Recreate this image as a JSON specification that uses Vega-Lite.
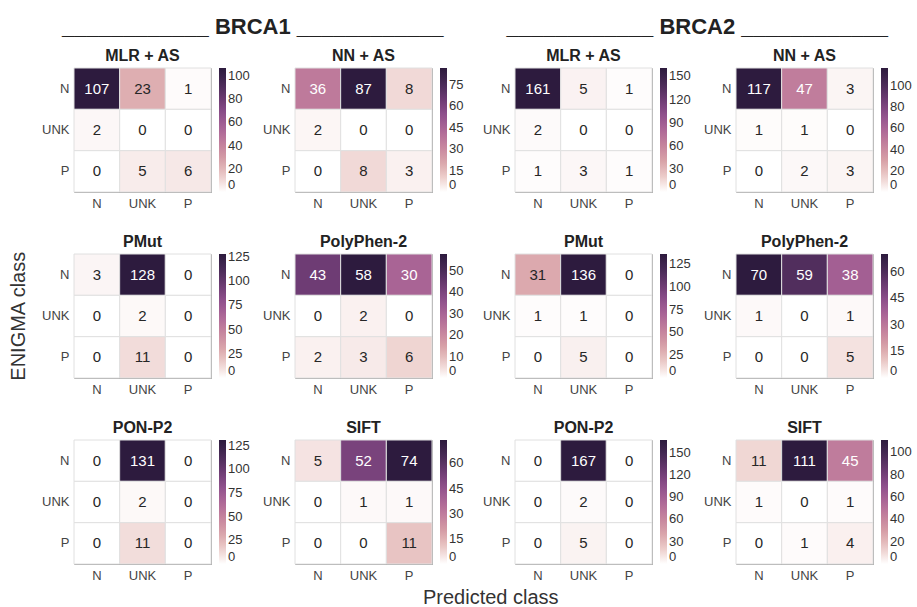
{
"$schema": "https://vega.github.io/schema/vega-lite/v6.json",
"padding": {"left": 9, "top": 16, "right": 2, "bottom": 0},
"config": {
  "font": "Liberation Sans",
  "view": {"stroke": "#9a9a9a"},
  "axis": {"domain": false, "ticks": false, "labelFontSize": 13, "labelColor": "#444444", "labelPadding": 5, "labelFont": "Liberation Sans"},
  "legend": {"gradientLength": 124, "gradientThickness": 7, "labelFontSize": 13, "labelColor": "#333333", "offset": 8, "padding": 0, "gradientStrokeWidth": 0, "labelOffset": 4, "labelFont": "Liberation Sans"},
  "title": {"font": "Liberation Sans", "fontSize": 16, "fontWeight": "bold", "color": "#222222", "offset": 4}
},
"data": {"values": [
{"g":"BRCA1","t":"MLR + AS","a":"N","p":"N","v":107},{"g":"BRCA1","t":"MLR + AS","a":"N","p":"UNK","v":23},{"g":"BRCA1","t":"MLR + AS","a":"N","p":"P","v":1},
{"g":"BRCA1","t":"MLR + AS","a":"UNK","p":"N","v":2},{"g":"BRCA1","t":"MLR + AS","a":"UNK","p":"UNK","v":0},{"g":"BRCA1","t":"MLR + AS","a":"UNK","p":"P","v":0},
{"g":"BRCA1","t":"MLR + AS","a":"P","p":"N","v":0},{"g":"BRCA1","t":"MLR + AS","a":"P","p":"UNK","v":5},{"g":"BRCA1","t":"MLR + AS","a":"P","p":"P","v":6},
{"g":"BRCA1","t":"NN + AS","a":"N","p":"N","v":36},{"g":"BRCA1","t":"NN + AS","a":"N","p":"UNK","v":87},{"g":"BRCA1","t":"NN + AS","a":"N","p":"P","v":8},
{"g":"BRCA1","t":"NN + AS","a":"UNK","p":"N","v":2},{"g":"BRCA1","t":"NN + AS","a":"UNK","p":"UNK","v":0},{"g":"BRCA1","t":"NN + AS","a":"UNK","p":"P","v":0},
{"g":"BRCA1","t":"NN + AS","a":"P","p":"N","v":0},{"g":"BRCA1","t":"NN + AS","a":"P","p":"UNK","v":8},{"g":"BRCA1","t":"NN + AS","a":"P","p":"P","v":3},
{"g":"BRCA1","t":"PMut","a":"N","p":"N","v":3},{"g":"BRCA1","t":"PMut","a":"N","p":"UNK","v":128},{"g":"BRCA1","t":"PMut","a":"N","p":"P","v":0},
{"g":"BRCA1","t":"PMut","a":"UNK","p":"N","v":0},{"g":"BRCA1","t":"PMut","a":"UNK","p":"UNK","v":2},{"g":"BRCA1","t":"PMut","a":"UNK","p":"P","v":0},
{"g":"BRCA1","t":"PMut","a":"P","p":"N","v":0},{"g":"BRCA1","t":"PMut","a":"P","p":"UNK","v":11},{"g":"BRCA1","t":"PMut","a":"P","p":"P","v":0},
{"g":"BRCA1","t":"PolyPhen-2","a":"N","p":"N","v":43},{"g":"BRCA1","t":"PolyPhen-2","a":"N","p":"UNK","v":58},{"g":"BRCA1","t":"PolyPhen-2","a":"N","p":"P","v":30},
{"g":"BRCA1","t":"PolyPhen-2","a":"UNK","p":"N","v":0},{"g":"BRCA1","t":"PolyPhen-2","a":"UNK","p":"UNK","v":2},{"g":"BRCA1","t":"PolyPhen-2","a":"UNK","p":"P","v":0},
{"g":"BRCA1","t":"PolyPhen-2","a":"P","p":"N","v":2},{"g":"BRCA1","t":"PolyPhen-2","a":"P","p":"UNK","v":3},{"g":"BRCA1","t":"PolyPhen-2","a":"P","p":"P","v":6},
{"g":"BRCA1","t":"PON-P2","a":"N","p":"N","v":0},{"g":"BRCA1","t":"PON-P2","a":"N","p":"UNK","v":131},{"g":"BRCA1","t":"PON-P2","a":"N","p":"P","v":0},
{"g":"BRCA1","t":"PON-P2","a":"UNK","p":"N","v":0},{"g":"BRCA1","t":"PON-P2","a":"UNK","p":"UNK","v":2},{"g":"BRCA1","t":"PON-P2","a":"UNK","p":"P","v":0},
{"g":"BRCA1","t":"PON-P2","a":"P","p":"N","v":0},{"g":"BRCA1","t":"PON-P2","a":"P","p":"UNK","v":11},{"g":"BRCA1","t":"PON-P2","a":"P","p":"P","v":0},
{"g":"BRCA1","t":"SIFT","a":"N","p":"N","v":5},{"g":"BRCA1","t":"SIFT","a":"N","p":"UNK","v":52},{"g":"BRCA1","t":"SIFT","a":"N","p":"P","v":74},
{"g":"BRCA1","t":"SIFT","a":"UNK","p":"N","v":0},{"g":"BRCA1","t":"SIFT","a":"UNK","p":"UNK","v":1},{"g":"BRCA1","t":"SIFT","a":"UNK","p":"P","v":1},
{"g":"BRCA1","t":"SIFT","a":"P","p":"N","v":0},{"g":"BRCA1","t":"SIFT","a":"P","p":"UNK","v":0},{"g":"BRCA1","t":"SIFT","a":"P","p":"P","v":11},
{"g":"BRCA2","t":"MLR + AS","a":"N","p":"N","v":161},{"g":"BRCA2","t":"MLR + AS","a":"N","p":"UNK","v":5},{"g":"BRCA2","t":"MLR + AS","a":"N","p":"P","v":1},
{"g":"BRCA2","t":"MLR + AS","a":"UNK","p":"N","v":2},{"g":"BRCA2","t":"MLR + AS","a":"UNK","p":"UNK","v":0},{"g":"BRCA2","t":"MLR + AS","a":"UNK","p":"P","v":0},
{"g":"BRCA2","t":"MLR + AS","a":"P","p":"N","v":1},{"g":"BRCA2","t":"MLR + AS","a":"P","p":"UNK","v":3},{"g":"BRCA2","t":"MLR + AS","a":"P","p":"P","v":1},
{"g":"BRCA2","t":"NN + AS","a":"N","p":"N","v":117},{"g":"BRCA2","t":"NN + AS","a":"N","p":"UNK","v":47},{"g":"BRCA2","t":"NN + AS","a":"N","p":"P","v":3},
{"g":"BRCA2","t":"NN + AS","a":"UNK","p":"N","v":1},{"g":"BRCA2","t":"NN + AS","a":"UNK","p":"UNK","v":1},{"g":"BRCA2","t":"NN + AS","a":"UNK","p":"P","v":0},
{"g":"BRCA2","t":"NN + AS","a":"P","p":"N","v":0},{"g":"BRCA2","t":"NN + AS","a":"P","p":"UNK","v":2},{"g":"BRCA2","t":"NN + AS","a":"P","p":"P","v":3},
{"g":"BRCA2","t":"PMut","a":"N","p":"N","v":31},{"g":"BRCA2","t":"PMut","a":"N","p":"UNK","v":136},{"g":"BRCA2","t":"PMut","a":"N","p":"P","v":0},
{"g":"BRCA2","t":"PMut","a":"UNK","p":"N","v":1},{"g":"BRCA2","t":"PMut","a":"UNK","p":"UNK","v":1},{"g":"BRCA2","t":"PMut","a":"UNK","p":"P","v":0},
{"g":"BRCA2","t":"PMut","a":"P","p":"N","v":0},{"g":"BRCA2","t":"PMut","a":"P","p":"UNK","v":5},{"g":"BRCA2","t":"PMut","a":"P","p":"P","v":0},
{"g":"BRCA2","t":"PolyPhen-2","a":"N","p":"N","v":70},{"g":"BRCA2","t":"PolyPhen-2","a":"N","p":"UNK","v":59},{"g":"BRCA2","t":"PolyPhen-2","a":"N","p":"P","v":38},
{"g":"BRCA2","t":"PolyPhen-2","a":"UNK","p":"N","v":1},{"g":"BRCA2","t":"PolyPhen-2","a":"UNK","p":"UNK","v":0},{"g":"BRCA2","t":"PolyPhen-2","a":"UNK","p":"P","v":1},
{"g":"BRCA2","t":"PolyPhen-2","a":"P","p":"N","v":0},{"g":"BRCA2","t":"PolyPhen-2","a":"P","p":"UNK","v":0},{"g":"BRCA2","t":"PolyPhen-2","a":"P","p":"P","v":5},
{"g":"BRCA2","t":"PON-P2","a":"N","p":"N","v":0},{"g":"BRCA2","t":"PON-P2","a":"N","p":"UNK","v":167},{"g":"BRCA2","t":"PON-P2","a":"N","p":"P","v":0},
{"g":"BRCA2","t":"PON-P2","a":"UNK","p":"N","v":0},{"g":"BRCA2","t":"PON-P2","a":"UNK","p":"UNK","v":2},{"g":"BRCA2","t":"PON-P2","a":"UNK","p":"P","v":0},
{"g":"BRCA2","t":"PON-P2","a":"P","p":"N","v":0},{"g":"BRCA2","t":"PON-P2","a":"P","p":"UNK","v":5},{"g":"BRCA2","t":"PON-P2","a":"P","p":"P","v":0},
{"g":"BRCA2","t":"SIFT","a":"N","p":"N","v":11},{"g":"BRCA2","t":"SIFT","a":"N","p":"UNK","v":111},{"g":"BRCA2","t":"SIFT","a":"N","p":"P","v":45},
{"g":"BRCA2","t":"SIFT","a":"UNK","p":"N","v":1},{"g":"BRCA2","t":"SIFT","a":"UNK","p":"UNK","v":0},{"g":"BRCA2","t":"SIFT","a":"UNK","p":"P","v":1},
{"g":"BRCA2","t":"SIFT","a":"P","p":"N","v":0},{"g":"BRCA2","t":"SIFT","a":"P","p":"UNK","v":1},{"g":"BRCA2","t":"SIFT","a":"P","p":"P","v":4}
]},
"title": {"text": "Predicted class", "orient": "bottom", "fontSize": 20, "fontWeight": "normal", "color": "#333333", "anchor": "middle", "offset": 5, "dx": 30},
"resolve": {"scale": {"color": "independent"}, "legend": {"color": "independent"}},
"vconcat": [{
  "title": {"text": "ENIGMA class", "orient": "left", "fontSize": 20, "fontWeight": "normal", "color": "#333333", "anchor": "middle", "offset": 12, "dx": -17},
  "resolve": {"scale": {"color": "independent"}, "legend": {"color": "independent"}},
  "spacing": 17,
  "hconcat": [
    {
      "title": {"text": "____________ BRCA1 ____________", "fontSize": 22, "fontWeight": "bold", "anchor": "middle", "offset": 8},
      "resolve": {"scale": {"color": "independent"}, "legend": {"color": "independent"}},
      "columns": 2,
      "spacing": {"row": 22, "column": 11},
      "concat": [
        {"title": "MLR + AS", "width": 137, "height": 124,
         "transform": [{"filter": "datum.g==='BRCA1' && datum.t==='MLR + AS'"}, {"joinaggregate": [{"op": "max", "field": "v", "as": "m"}]}],
         "encoding": {"x": {"field": "p", "type": "nominal", "sort": ["N","UNK","P"], "title": null, "axis": {"labelAngle": 0}}, "y": {"field": "a", "type": "nominal", "sort": ["N","UNK","P"], "title": null}},
         "layer": [
           {"mark": {"type": "rect", "stroke": "#e0e0e0", "strokeWidth": 1}, "encoding": {"color": {"field": "v", "type": "quantitative", "title": null, "scale": {"interpolate": "rgb", "range": ["#ffffff","#ecccc9","#d8a2a8","#c5839d","#ad6797","#8f508c","#6c3b72","#482a56","#2d1b3e"]}, "legend": {"values": [0,20,40,60,80,100]}}}},
           {"mark": {"type": "text", "fontSize": 15}, "encoding": {"text": {"field": "v", "type": "quantitative"}, "color": {"condition": {"test": "datum.v > 0.3*datum.m", "value": "white"}, "value": "#262626"}}}
         ]},
        {"title": "NN + AS", "width": 137, "height": 124,
         "transform": [{"filter": "datum.g==='BRCA1' && datum.t==='NN + AS'"}, {"joinaggregate": [{"op": "max", "field": "v", "as": "m"}]}],
         "encoding": {"x": {"field": "p", "type": "nominal", "sort": ["N","UNK","P"], "title": null, "axis": {"labelAngle": 0}}, "y": {"field": "a", "type": "nominal", "sort": ["N","UNK","P"], "title": null}},
         "layer": [
           {"mark": {"type": "rect", "stroke": "#e0e0e0", "strokeWidth": 1}, "encoding": {"color": {"field": "v", "type": "quantitative", "title": null, "scale": {"interpolate": "rgb", "range": ["#ffffff","#ecccc9","#d8a2a8","#c5839d","#ad6797","#8f508c","#6c3b72","#482a56","#2d1b3e"]}, "legend": {"values": [0,15,30,45,60,75]}}}},
           {"mark": {"type": "text", "fontSize": 15}, "encoding": {"text": {"field": "v", "type": "quantitative"}, "color": {"condition": {"test": "datum.v > 0.3*datum.m", "value": "white"}, "value": "#262626"}}}
         ]},
        {"title": "PMut", "width": 137, "height": 124,
         "transform": [{"filter": "datum.g==='BRCA1' && datum.t==='PMut'"}, {"joinaggregate": [{"op": "max", "field": "v", "as": "m"}]}],
         "encoding": {"x": {"field": "p", "type": "nominal", "sort": ["N","UNK","P"], "title": null, "axis": {"labelAngle": 0}}, "y": {"field": "a", "type": "nominal", "sort": ["N","UNK","P"], "title": null}},
         "layer": [
           {"mark": {"type": "rect", "stroke": "#e0e0e0", "strokeWidth": 1}, "encoding": {"color": {"field": "v", "type": "quantitative", "title": null, "scale": {"interpolate": "rgb", "range": ["#ffffff","#ecccc9","#d8a2a8","#c5839d","#ad6797","#8f508c","#6c3b72","#482a56","#2d1b3e"]}, "legend": {"values": [0,25,50,75,100,125]}}}},
           {"mark": {"type": "text", "fontSize": 15}, "encoding": {"text": {"field": "v", "type": "quantitative"}, "color": {"condition": {"test": "datum.v > 0.3*datum.m", "value": "white"}, "value": "#262626"}}}
         ]},
        {"title": "PolyPhen-2", "width": 137, "height": 124,
         "transform": [{"filter": "datum.g==='BRCA1' && datum.t==='PolyPhen-2'"}, {"joinaggregate": [{"op": "max", "field": "v", "as": "m"}]}],
         "encoding": {"x": {"field": "p", "type": "nominal", "sort": ["N","UNK","P"], "title": null, "axis": {"labelAngle": 0}}, "y": {"field": "a", "type": "nominal", "sort": ["N","UNK","P"], "title": null}},
         "layer": [
           {"mark": {"type": "rect", "stroke": "#e0e0e0", "strokeWidth": 1}, "encoding": {"color": {"field": "v", "type": "quantitative", "title": null, "scale": {"interpolate": "rgb", "range": ["#ffffff","#ecccc9","#d8a2a8","#c5839d","#ad6797","#8f508c","#6c3b72","#482a56","#2d1b3e"]}, "legend": {"values": [0,10,20,30,40,50]}}}},
           {"mark": {"type": "text", "fontSize": 15}, "encoding": {"text": {"field": "v", "type": "quantitative"}, "color": {"condition": {"test": "datum.v > 0.3*datum.m", "value": "white"}, "value": "#262626"}}}
         ]},
        {"title": "PON-P2", "width": 137, "height": 124,
         "transform": [{"filter": "datum.g==='BRCA1' && datum.t==='PON-P2'"}, {"joinaggregate": [{"op": "max", "field": "v", "as": "m"}]}],
         "encoding": {"x": {"field": "p", "type": "nominal", "sort": ["N","UNK","P"], "title": null, "axis": {"labelAngle": 0}}, "y": {"field": "a", "type": "nominal", "sort": ["N","UNK","P"], "title": null}},
         "layer": [
           {"mark": {"type": "rect", "stroke": "#e0e0e0", "strokeWidth": 1}, "encoding": {"color": {"field": "v", "type": "quantitative", "title": null, "scale": {"interpolate": "rgb", "range": ["#ffffff","#ecccc9","#d8a2a8","#c5839d","#ad6797","#8f508c","#6c3b72","#482a56","#2d1b3e"]}, "legend": {"values": [0,25,50,75,100,125]}}}},
           {"mark": {"type": "text", "fontSize": 15}, "encoding": {"text": {"field": "v", "type": "quantitative"}, "color": {"condition": {"test": "datum.v > 0.3*datum.m", "value": "white"}, "value": "#262626"}}}
         ]},
        {"title": "SIFT", "width": 137, "height": 124,
         "transform": [{"filter": "datum.g==='BRCA1' && datum.t==='SIFT'"}, {"joinaggregate": [{"op": "max", "field": "v", "as": "m"}]}],
         "encoding": {"x": {"field": "p", "type": "nominal", "sort": ["N","UNK","P"], "title": null, "axis": {"labelAngle": 0}}, "y": {"field": "a", "type": "nominal", "sort": ["N","UNK","P"], "title": null}},
         "layer": [
           {"mark": {"type": "rect", "stroke": "#e0e0e0", "strokeWidth": 1}, "encoding": {"color": {"field": "v", "type": "quantitative", "title": null, "scale": {"interpolate": "rgb", "range": ["#ffffff","#ecccc9","#d8a2a8","#c5839d","#ad6797","#8f508c","#6c3b72","#482a56","#2d1b3e"]}, "legend": {"values": [0,15,30,45,60]}}}},
           {"mark": {"type": "text", "fontSize": 15}, "encoding": {"text": {"field": "v", "type": "quantitative"}, "color": {"condition": {"test": "datum.v > 0.3*datum.m", "value": "white"}, "value": "#262626"}}}
         ]}
      ]
    },
    {
      "title": {"text": "____________ BRCA2 ____________", "fontSize": 22, "fontWeight": "bold", "anchor": "middle", "offset": 8},
      "resolve": {"scale": {"color": "independent"}, "legend": {"color": "independent"}},
      "columns": 2,
      "spacing": {"row": 22, "column": 11},
      "concat": [
        {"title": "MLR + AS", "width": 137, "height": 124,
         "transform": [{"filter": "datum.g==='BRCA2' && datum.t==='MLR + AS'"}, {"joinaggregate": [{"op": "max", "field": "v", "as": "m"}]}],
         "encoding": {"x": {"field": "p", "type": "nominal", "sort": ["N","UNK","P"], "title": null, "axis": {"labelAngle": 0}}, "y": {"field": "a", "type": "nominal", "sort": ["N","UNK","P"], "title": null}},
         "layer": [
           {"mark": {"type": "rect", "stroke": "#e0e0e0", "strokeWidth": 1}, "encoding": {"color": {"field": "v", "type": "quantitative", "title": null, "scale": {"interpolate": "rgb", "range": ["#ffffff","#ecccc9","#d8a2a8","#c5839d","#ad6797","#8f508c","#6c3b72","#482a56","#2d1b3e"]}, "legend": {"values": [0,30,60,90,120,150]}}}},
           {"mark": {"type": "text", "fontSize": 15}, "encoding": {"text": {"field": "v", "type": "quantitative"}, "color": {"condition": {"test": "datum.v > 0.3*datum.m", "value": "white"}, "value": "#262626"}}}
         ]},
        {"title": "NN + AS", "width": 137, "height": 124,
         "transform": [{"filter": "datum.g==='BRCA2' && datum.t==='NN + AS'"}, {"joinaggregate": [{"op": "max", "field": "v", "as": "m"}]}],
         "encoding": {"x": {"field": "p", "type": "nominal", "sort": ["N","UNK","P"], "title": null, "axis": {"labelAngle": 0}}, "y": {"field": "a", "type": "nominal", "sort": ["N","UNK","P"], "title": null}},
         "layer": [
           {"mark": {"type": "rect", "stroke": "#e0e0e0", "strokeWidth": 1}, "encoding": {"color": {"field": "v", "type": "quantitative", "title": null, "scale": {"interpolate": "rgb", "range": ["#ffffff","#ecccc9","#d8a2a8","#c5839d","#ad6797","#8f508c","#6c3b72","#482a56","#2d1b3e"]}, "legend": {"values": [0,20,40,60,80,100]}}}},
           {"mark": {"type": "text", "fontSize": 15}, "encoding": {"text": {"field": "v", "type": "quantitative"}, "color": {"condition": {"test": "datum.v > 0.3*datum.m", "value": "white"}, "value": "#262626"}}}
         ]},
        {"title": "PMut", "width": 137, "height": 124,
         "transform": [{"filter": "datum.g==='BRCA2' && datum.t==='PMut'"}, {"joinaggregate": [{"op": "max", "field": "v", "as": "m"}]}],
         "encoding": {"x": {"field": "p", "type": "nominal", "sort": ["N","UNK","P"], "title": null, "axis": {"labelAngle": 0}}, "y": {"field": "a", "type": "nominal", "sort": ["N","UNK","P"], "title": null}},
         "layer": [
           {"mark": {"type": "rect", "stroke": "#e0e0e0", "strokeWidth": 1}, "encoding": {"color": {"field": "v", "type": "quantitative", "title": null, "scale": {"interpolate": "rgb", "range": ["#ffffff","#ecccc9","#d8a2a8","#c5839d","#ad6797","#8f508c","#6c3b72","#482a56","#2d1b3e"]}, "legend": {"values": [0,25,50,75,100,125]}}}},
           {"mark": {"type": "text", "fontSize": 15}, "encoding": {"text": {"field": "v", "type": "quantitative"}, "color": {"condition": {"test": "datum.v > 0.3*datum.m", "value": "white"}, "value": "#262626"}}}
         ]},
        {"title": "PolyPhen-2", "width": 137, "height": 124,
         "transform": [{"filter": "datum.g==='BRCA2' && datum.t==='PolyPhen-2'"}, {"joinaggregate": [{"op": "max", "field": "v", "as": "m"}]}],
         "encoding": {"x": {"field": "p", "type": "nominal", "sort": ["N","UNK","P"], "title": null, "axis": {"labelAngle": 0}}, "y": {"field": "a", "type": "nominal", "sort": ["N","UNK","P"], "title": null}},
         "layer": [
           {"mark": {"type": "rect", "stroke": "#e0e0e0", "strokeWidth": 1}, "encoding": {"color": {"field": "v", "type": "quantitative", "title": null, "scale": {"interpolate": "rgb", "range": ["#ffffff","#ecccc9","#d8a2a8","#c5839d","#ad6797","#8f508c","#6c3b72","#482a56","#2d1b3e"]}, "legend": {"values": [0,15,30,45,60]}}}},
           {"mark": {"type": "text", "fontSize": 15}, "encoding": {"text": {"field": "v", "type": "quantitative"}, "color": {"condition": {"test": "datum.v > 0.3*datum.m", "value": "white"}, "value": "#262626"}}}
         ]},
        {"title": "PON-P2", "width": 137, "height": 124,
         "transform": [{"filter": "datum.g==='BRCA2' && datum.t==='PON-P2'"}, {"joinaggregate": [{"op": "max", "field": "v", "as": "m"}]}],
         "encoding": {"x": {"field": "p", "type": "nominal", "sort": ["N","UNK","P"], "title": null, "axis": {"labelAngle": 0}}, "y": {"field": "a", "type": "nominal", "sort": ["N","UNK","P"], "title": null}},
         "layer": [
           {"mark": {"type": "rect", "stroke": "#e0e0e0", "strokeWidth": 1}, "encoding": {"color": {"field": "v", "type": "quantitative", "title": null, "scale": {"interpolate": "rgb", "range": ["#ffffff","#ecccc9","#d8a2a8","#c5839d","#ad6797","#8f508c","#6c3b72","#482a56","#2d1b3e"]}, "legend": {"values": [0,30,60,90,120,150]}}}},
           {"mark": {"type": "text", "fontSize": 15}, "encoding": {"text": {"field": "v", "type": "quantitative"}, "color": {"condition": {"test": "datum.v > 0.3*datum.m", "value": "white"}, "value": "#262626"}}}
         ]},
        {"title": "SIFT", "width": 137, "height": 124,
         "transform": [{"filter": "datum.g==='BRCA2' && datum.t==='SIFT'"}, {"joinaggregate": [{"op": "max", "field": "v", "as": "m"}]}],
         "encoding": {"x": {"field": "p", "type": "nominal", "sort": ["N","UNK","P"], "title": null, "axis": {"labelAngle": 0}}, "y": {"field": "a", "type": "nominal", "sort": ["N","UNK","P"], "title": null}},
         "layer": [
           {"mark": {"type": "rect", "stroke": "#e0e0e0", "strokeWidth": 1}, "encoding": {"color": {"field": "v", "type": "quantitative", "title": null, "scale": {"interpolate": "rgb", "range": ["#ffffff","#ecccc9","#d8a2a8","#c5839d","#ad6797","#8f508c","#6c3b72","#482a56","#2d1b3e"]}, "legend": {"values": [0,20,40,60,80,100]}}}},
           {"mark": {"type": "text", "fontSize": 15}, "encoding": {"text": {"field": "v", "type": "quantitative"}, "color": {"condition": {"test": "datum.v > 0.3*datum.m", "value": "white"}, "value": "#262626"}}}
         ]}
      ]
    }
  ]
}]
}
